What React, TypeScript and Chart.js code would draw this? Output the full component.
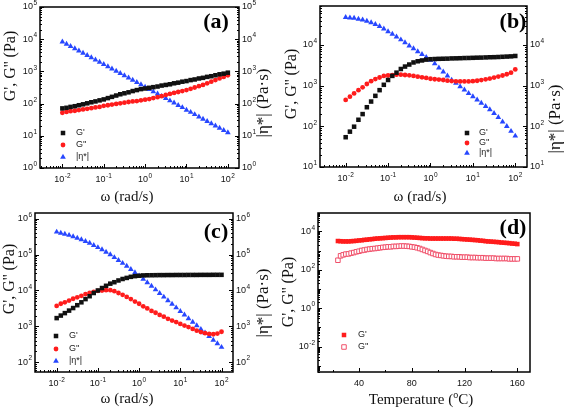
import React, { useEffect, useRef } from "react";
import { Chart, registerables } from "chart.js";

Chart.register(...registerables);

const W = 567;
const H = 409;

// ---------- data ----------
// angular frequency (rad/s), panels a–c
const omega = [
  0.01, 0.0126, 0.0158, 0.02, 0.0251, 0.0316, 0.0398, 0.0501, 0.0631, 0.0794,
  0.1, 0.126, 0.158, 0.2, 0.251, 0.316, 0.398, 0.501, 0.631, 0.794,
  1, 1.26, 1.58, 2, 2.51, 3.16, 3.98, 5.01, 6.31, 7.94,
  10, 12.6, 15.8, 20, 25.1, 31.6, 39.8, 50.1, 63.1, 79.4, 100,
];

// panel (a)
const aStorage = [71, 74, 79, 83, 89, 95, 102, 110, 117, 126, 135, 148, 162, 178, 195, 209, 224, 245, 263, 282, 295, 309, 324, 339, 363, 380, 398, 427, 447, 479, 501, 537, 562, 603, 631, 676, 708, 759, 813, 851, 912];
const aLoss = [52, 55, 58, 60, 63, 66, 69, 72, 76, 79, 85, 89, 93, 98, 102, 107, 112, 117, 120, 126, 132, 138, 148, 158, 170, 186, 200, 214, 229, 245, 263, 288, 316, 347, 380, 427, 479, 537, 603, 676, 759];
const aEta = [8320, 7080, 6030, 5130, 4370, 3720, 3160, 2690, 2290, 1950, 1660, 1410, 1200, 1020, 871, 741, 631, 537, 457, 389, 324, 275, 234, 200, 170, 145, 123, 105, 89, 76, 63, 54, 46, 39, 33, 28, 24, 20.4, 17.4, 14.8, 12.6];

// panel (b)
const bStorage = [54, 74, 98, 145, 200, 295, 407, 562, 776, 1050, 1380, 1740, 2090, 2570, 2950, 3310, 3720, 3980, 4170, 4370, 4470, 4520, 4570, 4600, 4620, 4680, 4700, 4730, 4780, 4800, 4840, 4880, 4900, 4950, 5000, 5020, 5070, 5130, 5190, 5250, 5370];
const bLoss = [447, 537, 646, 776, 912, 1100, 1290, 1450, 1590, 1740, 1780, 1820, 1860, 1860, 1830, 1800, 1740, 1660, 1600, 1550, 1480, 1440, 1410, 1380, 1330, 1300, 1280, 1270, 1270, 1270, 1290, 1320, 1370, 1430, 1490, 1580, 1670, 1780, 1910, 2090, 2510];
const bEta = [47900, 46800, 45700, 43600, 41700, 38900, 35500, 32400, 28800, 25100, 21400, 18600, 15800, 13500, 11500, 9550, 8130, 6920, 5890, 5010, 4270, 3470, 2750, 2190, 1740, 1380, 1150, 955, 794, 646, 537, 447, 372, 309, 257, 209, 166, 129, 100, 76, 58];

// panel (c)
const cStorage = [1700, 2000, 2340, 2750, 3240, 3890, 4680, 5750, 6920, 8510, 10000, 11700, 13500, 15500, 17000, 19000, 20900, 22400, 24000, 25100, 25700, 26300, 26500, 26600, 26700, 26800, 26800, 26900, 26900, 27000, 27000, 27000, 27100, 27100, 27100, 27200, 27200, 27200, 27300, 27300, 27300];
const cLoss = [3720, 4270, 4680, 5250, 5890, 6460, 7080, 7940, 8510, 9120, 9770, 10000, 10200, 10200, 9550, 8510, 7590, 6610, 5750, 4900, 4270, 3630, 3160, 2690, 2400, 2090, 1860, 1620, 1450, 1320, 1170, 1050, 955, 851, 759, 692, 646, 617, 603, 631, 708];
const cEta = [427000, 398000, 372000, 347000, 316000, 288000, 263000, 234000, 209000, 182000, 158000, 138000, 117000, 100000, 83200, 69200, 57500, 47900, 38900, 31600, 25700, 20900, 16600, 13200, 10500, 8320, 6610, 5250, 4170, 3310, 2630, 2090, 1660, 1320, 1050, 832, 661, 525, 417, 331, 263];

// panel (d): temperature sweep (°C)
const temperature = [24, 26, 28, 30, 32, 34, 36, 38, 40, 42, 44, 46, 48, 50, 52, 54, 56, 58, 60, 62, 64, 66, 68, 70, 72, 74, 76, 78, 80, 82, 84, 86, 88, 90, 92, 94, 96, 98, 100, 102, 104, 106, 108, 110, 112, 114, 116, 118, 120, 122, 124, 126, 128, 130, 132, 134, 136, 138, 140, 142, 144, 146, 148, 150, 152, 154, 156, 158, 160];
const dStorage = [3160, 3090, 3020, 3020, 3020, 3090, 3160, 3240, 3390, 3470, 3630, 3720, 3890, 3980, 4170, 4270, 4370, 4470, 4570, 4680, 4790, 4900, 4900, 5010, 5010, 5010, 5010, 5010, 4900, 4790, 4680, 4570, 4470, 4370, 4370, 4270, 4270, 4270, 4270, 4270, 4270, 4270, 4270, 4270, 4170, 4170, 4070, 3980, 3890, 3800, 3720, 3630, 3550, 3470, 3310, 3240, 3090, 3020, 2950, 2880, 2820, 2750, 2630, 2570, 2510, 2450, 2340, 2290, 2190];
const dLoss = [316, 537, 603, 661, 676, 741, 794, 871, 933, 1020, 1070, 1150, 1200, 1260, 1290, 1350, 1410, 1480, 1510, 1580, 1580, 1660, 1660, 1700, 1740, 1740, 1700, 1660, 1580, 1510, 1410, 1290, 1150, 1020, 912, 794, 708, 631, 589, 562, 537, 513, 501, 501, 479, 479, 479, 457, 457, 457, 437, 437, 437, 427, 427, 427, 407, 407, 407, 407, 389, 389, 389, 389, 389, 372, 372, 372, 372];

const tempMajorTicks = [40, 80, 120, 160];
const tempMinorTicks = [20, 60, 100, 140];

const labelStorage = "G'";
const labelLoss = "G''";
const labelEta = "|η*|";
const titleOmega = "ω (rad/s)";
const titleModulus = "G', G'' (Pa)";
const titleEta = "|η*| (Pa·s)";

// ---------- styling ----------
const SANS = '"Liberation Sans", Arial, Helvetica, sans-serif';
const SERIF = '"Liberation Serif", "Times New Roman", Times, serif';
const BLACK = "#111111";
const RED = "#ff1c1c";
const BLUE = "#2747ff";
const PINK = "#f0506a";

type Shape = "rect" | "circle" | "triangle";
type Series = { label: string; values: number[]; color: string; shape: Shape; radius: number; axis: "y" | "y2"; open?: boolean };
type PanelSpec = {
  area: [number, number, number, number];
  xType: "logarithmic" | "linear";
  xMin: number; xMax: number; xValues: number[];
  yMin: number; yMax: number; yLabelStep: number;
  rightAxis: boolean;
  xTitle: string; xTitlePos: [number, number];
  yTitlePos: [number, number];
  y2TitlePos?: [number, number];
  tag: string; tagPos: [number, number];
  legendX: number; legendTextX: number; legendRows: number[];
  series: Series[];
};

const seriesABC = (g1: number[], g2: number[], eta: number[]): Series[] => [
  { label: labelStorage, values: g1, color: BLACK, shape: "rect", radius: 3.2, axis: "y" },
  { label: labelLoss, values: g2, color: RED, shape: "circle", radius: 2.4, axis: "y" },
  { label: labelEta, values: eta, color: BLUE, shape: "triangle", radius: 3.3, axis: "y2" },
];

const panels: PanelSpec[] = [
  {
    area: [40, 7, 239, 168], xType: "logarithmic", xMin: 0.00288, xMax: 186, xValues: omega,
    yMin: 1, yMax: 1e5, yLabelStep: 1, rightAxis: true,
    xTitle: titleOmega, xTitlePos: [127, 197], yTitlePos: [10.5, 66], y2TitlePos: [264, 103],
    tag: "(a)", tagPos: [216, 22], legendX: 63, legendTextX: 76, legendRows: [133, 145, 157],
    series: seriesABC(aStorage, aLoss, aEta),
  },
  {
    area: [320, 6, 527, 167], xType: "logarithmic", xMin: 0.00248, xMax: 189, xValues: omega,
    yMin: 10, yMax: 91000, yLabelStep: 1, rightAxis: true,
    xTitle: titleOmega, xTitlePos: [420, 197], yTitlePos: [292, 84], y2TitlePos: [556, 119],
    tag: "(b)", tagPos: [513, 22], legendX: 467, legendTextX: 479, legendRows: [133, 143, 153],
    series: seriesABC(bStorage, bLoss, bEta),
  },
  {
    area: [35, 213, 233, 372], xType: "logarithmic", xMin: 0.00298, xMax: 190, xValues: omega,
    yMin: 53.6, yMax: 1.44e6, yLabelStep: 1, rightAxis: true,
    xTitle: titleOmega, xTitlePos: [127, 399], yTitlePos: [10, 279], y2TitlePos: [264, 303],
    tag: "(c)", tagPos: [216, 232], legendX: 56, legendTextX: 69, legendRows: [336, 349, 361],
    series: seriesABC(cStorage, cLoss, cEta),
  },
  {
    area: [318, 213, 530, 372], xType: "linear", xMin: 8.9, xMax: 169.6, xValues: temperature,
    yMin: 4.8e-4, yMax: 91000, yLabelStep: 2, rightAxis: false,
    xTitle: "Temperature (", xTitlePos: [421, 400], yTitlePos: [289, 292],
    tag: "(d)", tagPos: [513, 228], legendX: 344, legendTextX: 358, legendRows: [335, 347],
    series: [
      { label: labelStorage, values: dStorage, color: RED, shape: "rect", radius: 3.2, axis: "y" },
      { label: labelLoss, values: dLoss, color: PINK, shape: "rect", radius: 3.2, axis: "y", open: true },
    ],
  },
];

// ---------- helpers ----------
function logTicks(min: number, max: number) {
  const out: { v: number; m: number; e: number }[] = [];
  const e0 = Math.floor(Math.log10(min));
  const e1 = Math.ceil(Math.log10(max));
  for (let e = e0; e <= e1; e++) {
    for (let m = 1; m <= 9; m++) {
      const v = m * Math.pow(10, e);
      if (v >= min * 0.9999 && v <= max * 1.0001) out.push({ v, m, e });
    }
  }
  return out;
}

const BASE_PX = 9;
const SUP_PX = 6.5;

function drawPow(ctx: CanvasRenderingContext2D, e: number, x: number, y: number, align: "left" | "right" | "center") {
  const base = "10";
  const sup = String(e);
  ctx.font = `${BASE_PX}px ${SANS}`;
  const wb = ctx.measureText(base).width;
  ctx.font = `${SUP_PX}px ${SANS}`;
  const ws = ctx.measureText(sup).width;
  const total = wb + 0.5 + ws;
  const x0 = align === "left" ? x : align === "right" ? x - total : x - total / 2;
  ctx.textAlign = "left";
  ctx.textBaseline = "middle";
  ctx.font = `${BASE_PX}px ${SANS}`;
  ctx.fillText(base, x0, y);
  ctx.font = `${SUP_PX}px ${SANS}`;
  ctx.fillText(sup, x0 + wb + 0.5, y - 3.6);
}

function drawMarker(ctx: CanvasRenderingContext2D, s: Series, x: number, y: number) {
  const r = s.radius;
  ctx.beginPath();
  if (s.shape === "rect") {
    const h = r * Math.SQRT1_2;
    ctx.rect(x - h, y - h, 2 * h, 2 * h);
  } else if (s.shape === "circle") {
    ctx.arc(x, y, r, 0, Math.PI * 2);
  } else {
    for (let k = 0; k < 3; k++) {
      const a = (k * 2 * Math.PI) / 3;
      const px = x + Math.sin(a) * r;
      const py = y - Math.cos(a) * r;
      if (k === 0) ctx.moveTo(px, py);
      else ctx.lineTo(px, py);
    }
    ctx.closePath();
  }
  if (s.open) {
    ctx.fillStyle = "#ffffff";
    ctx.fill();
    ctx.strokeStyle = s.color;
    ctx.lineWidth = 1;
    ctx.stroke();
  } else {
    ctx.fillStyle = s.color;
    ctx.fill();
  }
}

function drawRotated(ctx: CanvasRenderingContext2D, text: string, x: number, y: number, font: string) {
  ctx.save();
  ctx.translate(x, y);
  ctx.rotate(-Math.PI / 2);
  ctx.font = font;
  ctx.textAlign = "center";
  ctx.textBaseline = "middle";
  ctx.fillText(text, 0, 0);
  ctx.restore();
}

function makeDecor(p: PanelSpec) {
  return {
    id: "decor",
    afterDraw(chart: any) {
      const ctx: CanvasRenderingContext2D = chart.ctx;
      const { left, top, right, bottom } = chart.chartArea;
      const xs = chart.scales.x;
      const ys = chart.scales.y;
      ctx.save();
      ctx.strokeStyle = "#000";
      ctx.fillStyle = BLACK;

      // inward tick marks
      ctx.lineWidth = 1;
      ctx.beginPath();
      if (p.xType === "logarithmic") {
        for (const t of logTicks(p.xMin, p.xMax)) {
          const px = Math.round(xs.getPixelForValue(t.v)) + 0.5;
          const len = t.m === 1 ? 4 : 2;
          ctx.moveTo(px, bottom);
          ctx.lineTo(px, bottom - len);
        }
      } else {
        for (const v of tempMajorTicks) {
          const px = Math.round(xs.getPixelForValue(v)) + 0.5;
          ctx.moveTo(px, bottom);
          ctx.lineTo(px, bottom - 4);
        }
        for (const v of tempMinorTicks) {
          const px = Math.round(xs.getPixelForValue(v)) + 0.5;
          ctx.moveTo(px, bottom);
          ctx.lineTo(px, bottom - 2);
        }
      }
      const yt = logTicks(p.yMin, p.yMax);
      for (const t of yt) {
        const py = Math.round(ys.getPixelForValue(t.v)) + 0.5;
        let len = t.m === 1 ? 4 : 2;
        if (p.yLabelStep === 2 && t.m === 1 && t.e % 2 !== 0) len = 3;
        ctx.moveTo(left, py);
        ctx.lineTo(left + len, py);
        if (p.rightAxis) {
          ctx.moveTo(right, py);
          ctx.lineTo(right - len, py);
        }
      }
      ctx.stroke();

      // frame
      ctx.lineWidth = 1.5;
      ctx.strokeRect(left, top, right - left, bottom - top);

      // tick labels
      ctx.fillStyle = BLACK;
      if (p.xType === "logarithmic") {
        for (const t of logTicks(p.xMin, p.xMax)) {
          if (t.m !== 1) continue;
          drawPow(ctx, t.e, xs.getPixelForValue(t.v), bottom + 12, "center");
        }
      } else {
        ctx.font = `${BASE_PX}px ${SANS}`;
        ctx.textAlign = "center";
        ctx.textBaseline = "middle";
        for (const v of tempMajorTicks) ctx.fillText(String(v), xs.getPixelForValue(v), bottom + 11.5);
      }
      for (const t of yt) {
        if (t.m !== 1 || t.e % p.yLabelStep !== 0) continue;
        const py = ys.getPixelForValue(t.v);
        drawPow(ctx, t.e, left - 3, py, "right");
        if (p.rightAxis) drawPow(ctx, t.e, right + 3, py, "left");
      }

      // axis titles
      const titleFont = `16px ${SERIF}`;
      drawRotated(ctx, titleModulus, p.yTitlePos[0], p.yTitlePos[1], titleFont);
      if (p.y2TitlePos) drawRotated(ctx, titleEta, p.y2TitlePos[0], p.y2TitlePos[1], `17px ${SERIF}`);
      ctx.textBaseline = "middle";
      if (p.xType === "logarithmic") {
        ctx.font = `15px ${SERIF}`;
        ctx.textAlign = "center";
        ctx.fillText(p.xTitle, p.xTitlePos[0], p.xTitlePos[1]);
      } else {
        const a = p.xTitle;
        const sup = "o";
        const b = "C)";
        ctx.font = `15px ${SERIF}`;
        const wa = ctx.measureText(a).width;
        const wb = ctx.measureText(b).width;
        ctx.font = `10px ${SERIF}`;
        const ws = ctx.measureText(sup).width;
        const total = wa + ws + wb;
        let x0 = p.xTitlePos[0] - total / 2;
        ctx.textAlign = "left";
        ctx.font = `15px ${SERIF}`;
        ctx.fillText(a, x0, p.xTitlePos[1]);
        ctx.font = `10px ${SERIF}`;
        ctx.fillText(sup, x0 + wa, p.xTitlePos[1] - 5);
        ctx.font = `15px ${SERIF}`;
        ctx.fillText(b, x0 + wa + ws, p.xTitlePos[1]);
      }

      // panel tag
      ctx.font = `bold 22px ${SERIF}`;
      ctx.textAlign = "center";
      ctx.textBaseline = "middle";
      ctx.fillStyle = "#000";
      ctx.fillText(p.tag, p.tagPos[0], p.tagPos[1]);

      // legend
      p.series.forEach((s, i) => {
        const ly = p.legendRows[i];
        drawMarker(ctx, s, p.legendX, ly);
        ctx.fillStyle = "#222";
        ctx.font = `9px ${SANS}`;
        ctx.textAlign = "left";
        ctx.textBaseline = "middle";
        ctx.fillText(s.label, p.legendTextX, ly);
      });

      ctx.restore();
    },
  };
}

function PanelChart({ spec }: { spec: PanelSpec }) {
  const ref = useRef<HTMLCanvasElement>(null);
  useEffect(() => {
    const [l, t, r, b] = spec.area;
    const logY = { type: "logarithmic" as const, min: spec.yMin, max: spec.yMax, display: false };
    const chart = new Chart(ref.current as HTMLCanvasElement, {
      type: "scatter",
      data: {
        datasets: spec.series.map((s) => ({
          label: s.label,
          data: spec.xValues.map((x, i) => ({ x, y: s.values[i] })),
          yAxisID: s.axis,
          pointStyle: s.shape,
          pointRadius: s.radius,
          pointHoverRadius: s.radius,
          pointBackgroundColor: s.open ? "#ffffff" : s.color,
          pointBorderColor: s.color,
          pointBorderWidth: s.open ? 1 : 0,
          showLine: false,
        })),
      },
      options: {
        responsive: false,
        animation: false,
        devicePixelRatio: 1,
        events: [],
        layout: { padding: { left: l, top: t, right: W - r, bottom: H - b } },
        plugins: { legend: { display: false }, tooltip: { enabled: false } },
        scales: {
          x: { type: spec.xType, min: spec.xMin, max: spec.xMax, display: false },
          y: logY,
          y2: { ...logY },
        },
      } as any,
      plugins: [makeDecor(spec)],
    });
    return () => chart.destroy();
  }, [spec]);
  return (
    <canvas
      ref={ref}
      width={W}
      height={H}
      style={{ position: "absolute", left: 0, top: 0, width: W, height: H }}
    />
  );
}

export default function App() {
  return (
    <div style={{ position: "absolute", left: 0, top: 0, width: W, height: H, background: "#ffffff" }}>
      {panels.map((p, i) => (
        <PanelChart key={i} spec={p} />
      ))}
    </div>
  );
}
